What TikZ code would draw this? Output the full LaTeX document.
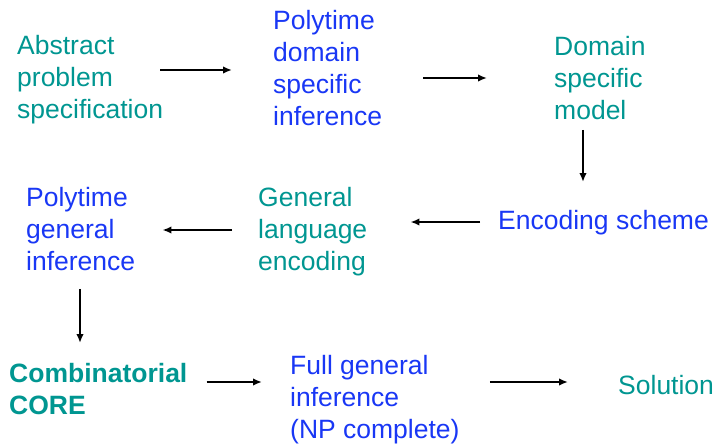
\documentclass[tikz,border=0pt]{standalone}
\usepackage{fontspec}
\setmainfont{Liberation Sans}
\usetikzlibrary{arrows.meta}

\definecolor{flowteal}{RGB}{0,150,145}
\definecolor{flowblue}{RGB}{25,55,245}

\tikzset{
  lbl/.style={anchor=north west, inner sep=0pt, align=left,
              font=\fontsize{26.5}{32}\selectfont},
  tealtxt/.style={lbl, text=flowteal},
  bluetxt/.style={lbl, text=flowblue},
  arr/.style={line width=2pt, -{Latex[length=9pt,width=7.5pt]}},
}

\begin{document}
\begin{tikzpicture}[x=1pt, y=-1pt]

  %% ════ first row ════
  \node[tealtxt] (abs)  at (17,35)  {Abstract\\problem\\specification};
  \node[bluetxt] (pdsi) at (273,10) {Polytime\\domain\\specific\\inference};
  \node[tealtxt] (dsm)  at (554,36) {Domain\\specific\\model};

  %% ════ second row ════
  \node[bluetxt] (enc)  at (498,210) {Encoding scheme};
  \node[tealtxt] (gle)  at (258,187) {General\\language\\encoding};
  \node[bluetxt] (pgi)  at (26,187)  {Polytime\\general\\inference};

  %% ════ third row ════
  \node[tealtxt, font=\fontsize{26.5}{32}\selectfont\bfseries] (core) at (9,363) {Combinatorial\\CORE};
  \node[bluetxt] (fgi)  at (290,355) {Full general\\inference\\(NP complete)};
  \node[tealtxt] (sol)  at (618,375) {Solution};

  %% ════ arrows ════
  \draw[arr, shorten <=-3pt, shorten >=41pt] (abs.east |- 0,70) -- (pdsi.west |- 0,70);
  \draw[arr, shorten <=41pt, shorten >=67pt] (pdsi.east |- 0,78) -- (dsm.west |- 0,78);
  \draw[arr, shorten <=10pt, shorten >=28pt] (583,0 |- dsm.south) -- (583,0 |- enc.north);
  \draw[arr, shorten <=18pt, shorten >=43pt] (enc.west |- 0,222) -- (gle.east |- 0,222);
  \draw[arr, shorten <=26pt, shorten >=27pt] (gle.west |- 0,230) -- (pgi.east |- 0,230);
  \draw[arr, shorten <=18pt, shorten >=20pt] (80,0 |- pgi.south) -- (80,0 |- core.north);
  \draw[arr, shorten <=19pt, shorten >=28pt] (core.east |- 0,382) -- (fgi.west |- 0,382);
  \draw[arr, shorten <=30pt, shorten >=50pt] (fgi.east |- 0,382) -- (sol.west |- 0,382);

  \pgfresetboundingbox
  \path[use as bounding box] (0,0) rectangle (717,444);
\end{tikzpicture}
\end{document}
